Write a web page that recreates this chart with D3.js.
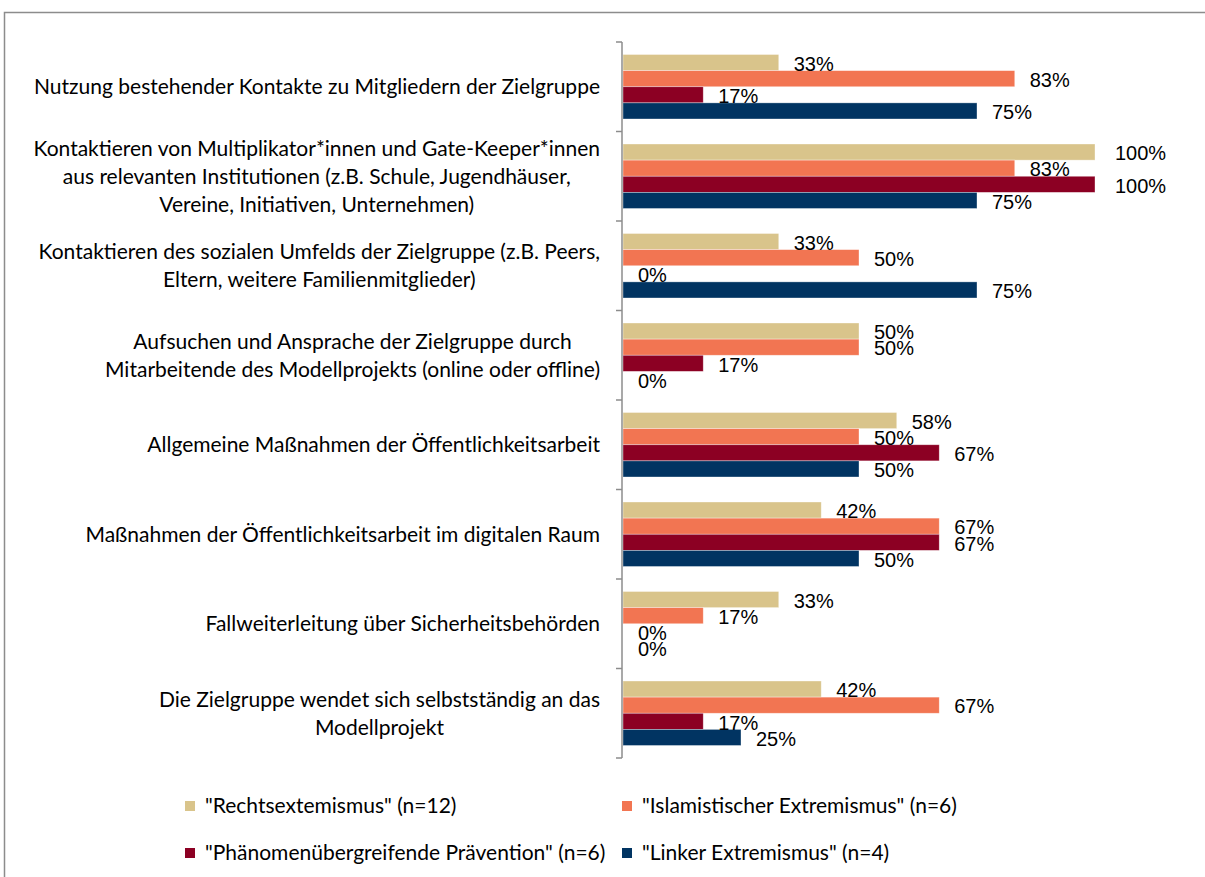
<!DOCTYPE html>
<html lang="de">
  <head>
    <meta charset="utf-8">
    <title>Zugangswege zur Zielgruppe</title>
    <style>
      body { margin: 0; background: #fff; }
      .cat { font-family: Lato, "Open Sans", sans-serif; font-size: 21px; fill: #000; }
      .val { font-family: "Liberation Sans", Arial, sans-serif; font-size: 20px; fill: #000; }
      .leg { font-family: Lato, "Open Sans", sans-serif; font-size: 21px; fill: #000; }
    </style>
  </head>
  <body>
    <div id="viz"></div>
    <script src="https://cdn.jsdelivr.net/npm/d3@7/dist/d3.min.js"></script>
    <script>
      // categories, each as its wrapped lines
      const categories = [
        ['Nutzung bestehender Kontakte zu Mitgliedern der Zielgruppe'],
        ['Kontaktieren von Multiplikator*innen und Gate-Keeper*innen', 'aus relevanten Institutionen (z.B. Schule, Jugendhäuser,', 'Vereine, Initiativen, Unternehmen)'],
        ['Kontaktieren des sozialen Umfelds der Zielgruppe (z.B. Peers,', 'Eltern, weitere Familienmitglieder)'],
        ['Aufsuchen und Ansprache der Zielgruppe durch', 'Mitarbeitende des Modellprojekts (online oder offline)'],
        ['Allgemeine Maßnahmen der Öffentlichkeitsarbeit'],
        ['Maßnahmen der Öffentlichkeitsarbeit im digitalen Raum'],
        ['Fallweiterleitung über Sicherheitsbehörden'],
        ['Die Zielgruppe wendet sich selbstständig an das', 'Modellprojekt']
      ]
      const series = ['"Rechtsextemismus" (n=12)', '"Islamistischer Extremismus" (n=6)', '"Phänomenübergreifende Prävention" (n=6)', '"Linker Extremismus" (n=4)']
      const colors = ['#d9c48b', '#f27552', '#8c0023', '#013462']

      const rechts = [33, 100, 33, 50, 58, 42, 33, 42]
      const islam = [83, 83, 50, 50, 50, 67, 17, 67]
      const phaen = [17, 100, 0, 17, 67, 67, 0, 17]
      const links = [75, 75, 75, 0, 50, 50, 0, 25]
      const values = [rechts, islam, phaen, links]

      const width = 1205
      const height = 877
      const svg = d3.select('#viz').append('svg').attr('width', width).attr('height', height)

      // outer frame
      svg.append('rect')
        .attr('x', 4.5).attr('y', 12.5)
        .attr('width', width + 10).attr('height', height + 10)
        .attr('fill', 'none').attr('stroke', '#8c8c8c').attr('stroke-width', 1.5)

      const ids = categories.map((c, i) => i)
      const x = d3.scaleLinear().domain([0, 100]).range([623, 1095])
      const y = d3.scaleBand().domain(ids).range([42, 758])
      const yInner = d3.scaleBand().domain(d3.range(series.length)).range([12.5, y.bandwidth() - 12.5])

      const groups = svg.selectAll('g.group')
        .data(ids)
        .enter()
          .append('g')
            .attr('class', 'group')
            .attr('transform', i => `translate(0,${y(i)})`)

      groups.selectAll('rect')
        .data(i => values.map((v, s) => ({ s, v: v[i] })))
        .enter()
          .append('rect')
            .attr('x', x(0))
            .attr('y', d => yInner(d.s))
            .attr('width', d => x(d.v) - x(0))
            .attr('height', yInner.bandwidth())
            .attr('fill', d => colors[d.s])
            .attr('stroke', d => d.v > 0 ? 'rgba(255,255,255,0.5)' : 'none')
            .attr('stroke-width', 0.7)

      groups.selectAll('text.val')
        .data(i => values.map((v, s) => ({ s, v: v[i] })))
        .enter()
          .append('text')
            .attr('class', 'val')
            .attr('x', d => x(d.v) + (d.v === 100 ? 20 : 15))
            .attr('y', d => yInner(d.s) + yInner.bandwidth() / 2 + 1)
            .attr('dy', '0.36em')
            .text(d => d.v + '%')

      // axis with ticks between categories
      const axis = svg.append('g').attr('stroke', '#8c8c8c').attr('stroke-width', 1.5)
      axis.append('line').attr('x1', 622).attr('x2', 622).attr('y1', 42).attr('y2', 758)
      axis.selectAll('line.tick')
        .data(ids.concat([ids.length]))
        .enter()
          .append('line')
            .attr('class', 'tick')
            .attr('x1', 616).attr('x2', 622)
            .attr('y1', i => i < ids.length ? y(i) : y.range()[1])
            .attr('y2', i => i < ids.length ? y(i) : y.range()[1])

      // category labels: block right aligned, lines centred within it
      const lineH = 28
      groups.each(function (i) {
        const g = d3.select(this)
        const lines = categories[i]
        const t = g.selectAll('text.cat')
          .data(lines)
          .enter()
            .append('text')
              .attr('class', 'cat')
              .attr('text-anchor', 'middle')
              .attr('y', (l, k) => y.bandwidth() / 2 + (k - (lines.length - 1) / 2) * lineH)
              .attr('dy', '0.35em')
              .text(l => l)
        let maxW = 0
        t.each(function () { maxW = Math.max(maxW, this.getComputedTextLength()) })
        t.attr('x', 600 - maxW / 2)
      })

      // legend
      const legPos = [[185, 806], [622, 806], [185, 853], [622, 853]]
      const leg = svg.selectAll('g.leg')
        .data(series)
        .enter()
          .append('g')
            .attr('transform', (s, k) => `translate(${legPos[k][0]},${legPos[k][1]})`)
      leg.append('rect').attr('x', 0).attr('y', -5).attr('width', 10).attr('height', 10)
        .attr('fill', (s, k) => colors[k])
      leg.append('text').attr('class', 'leg').attr('x', 20).attr('dy', '0.35em').text(s => s)
    </script>
  </body>
</html>
